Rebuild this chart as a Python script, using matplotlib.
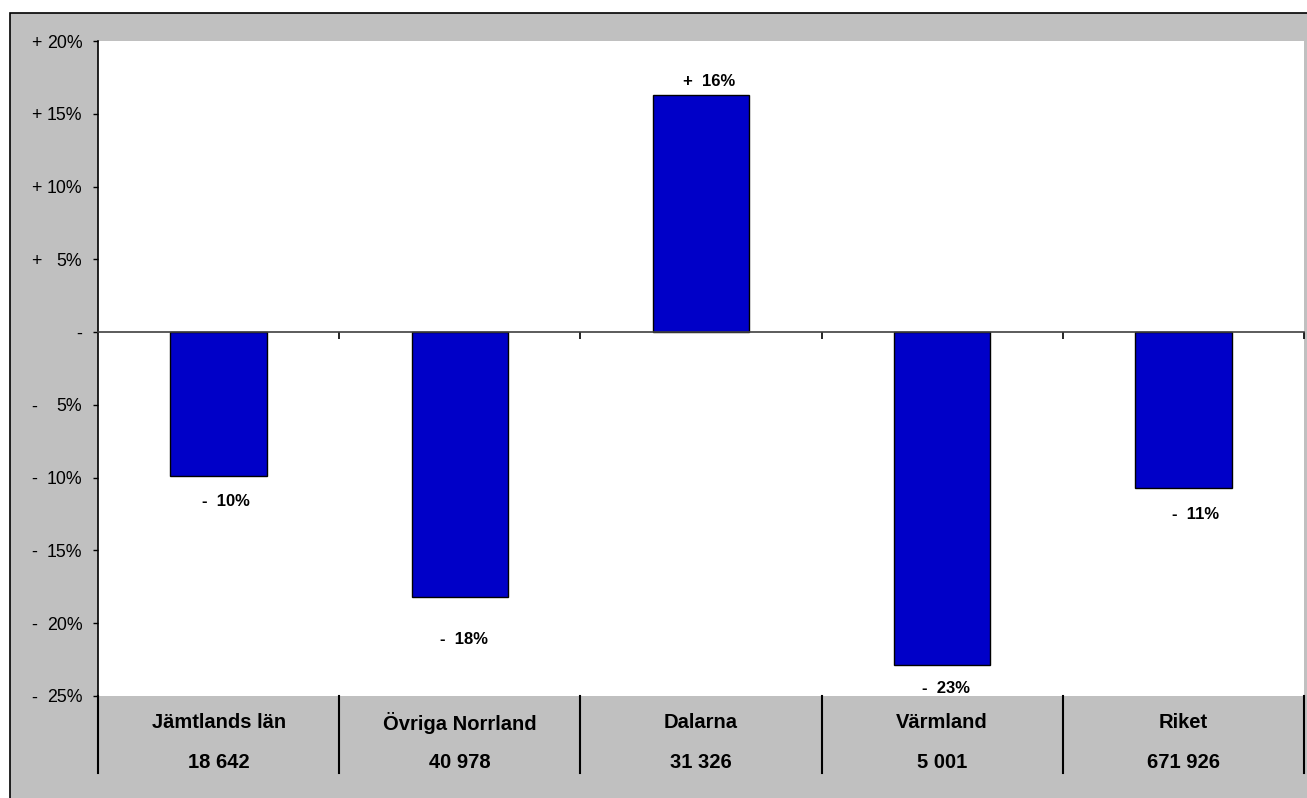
import matplotlib
matplotlib.use("Agg")
import matplotlib.pyplot as plt
import matplotlib.transforms as mtransforms
from matplotlib.patches import Rectangle

plt.rcParams['font.family'] = ['Liberation Sans', 'DejaVu Sans']

categories = ["Jämtlands län", "Övriga Norrland", "Dalarna", "Värmland", "Riket"]
counts = ["18 642", "40 978", "31 326", "5 001", "671 926"]
changes = [-9.9, -18.2, 16.3, -22.9, -10.7]
data_labels = ["-  10%", "-  18%", "+  16%", "-  23%", "-  11%"]
yticks = [20, 15, 10, 5, 0, -5, -10, -15, -20, -25]

# label placement (pixels) - style only
lab_dx = [7, 4, 8, 4, 12]
lab_dy = [-25, -42, 13, -23, -27]

W, H = 1307, 798
fig = plt.figure(figsize=(W / 100, H / 100), dpi=100, facecolor='white')
# gray chart area with black frame (left and top visible)
bg = Rectangle((10 / W, -0.05), 1.1, 1 - 13 / H + 0.05, transform=fig.transFigure,
               facecolor='#C0C0C0', edgecolor='black', linewidth=1.2, zorder=-10)
fig.add_artist(bg)

ax = fig.add_axes([98 / W, 1 - 696 / H, (1304 - 98) / W, (696 - 41) / H])
ax.set_zorder(1)
ax.set_facecolor('white')
x = list(range(len(categories)))
ax.bar(x, changes, width=0.4, color='#0000C8', edgecolor='black', linewidth=1, zorder=3)
ax.set_xlim(-0.5, len(categories) - 0.5)
ax.set_ylim(-25, 20)

# y axis
ax.set_yticks(yticks)
ax.set_yticklabels(["-" if v == 0 else f"{abs(v)}%" for v in yticks], fontsize=12.8)
ax.tick_params(axis='y', direction='out', length=3.8, width=1, color='black', pad=7.5)
sign_tr = mtransforms.blended_transform_factory(fig.transFigure, ax.transData)
for v in yticks:
    if v != 0:
        ax.text(31 / W, v, "+" if v > 0 else "-", transform=sign_tr, ha='left',
                va='center_baseline', fontsize=12.8, clip_on=False)

# zero axis with category tick marks
ax.spines['bottom'].set_position(('data', 0))
ax.spines['bottom'].set_color('#404040')
ax.spines['bottom'].set_linewidth(1.2)
ax.spines['bottom'].set_zorder(4)
ax.set_xticks([i + 0.5 for i in range(len(categories))])
ax.set_xticklabels([])
ax.tick_params(axis='x', direction='out', length=5, width=1.2, color='black')
ax.spines['top'].set_visible(False)
ax.spines['right'].set_visible(False)
ax.spines['left'].set_color('black')
ax.spines['left'].set_linewidth(1.2)

# data labels
for i, (v, lab) in enumerate(zip(changes, data_labels)):
    ax.annotate(lab, xy=(i, v), xytext=(lab_dx[i], lab_dy[i]), textcoords='offset pixels',
                ha='center', va='center', fontsize=12, fontweight='bold', zorder=5)

# category table below
tr = mtransforms.blended_transform_factory(ax.transData, fig.transFigure)
for i, (c, n) in enumerate(zip(categories, counts)):
    ax.text(i, 1 - 723 / H, c, transform=tr, ha='center', va='center', fontsize=14.5,
            fontweight='bold', clip_on=False)
    ax.text(i, 1 - 762 / H, n, transform=tr, ha='center', va='center', fontsize=14.5,
            fontweight='bold', clip_on=False)
for b in range(len(categories) + 1):
    ax.plot([b - 0.5, b - 0.5], [1 - 696 / H, 1 - 773 / H], transform=tr, color='black',
            linewidth=1.5, clip_on=False)

fig.savefig("out.png", dpi=100, facecolor=fig.get_facecolor())
